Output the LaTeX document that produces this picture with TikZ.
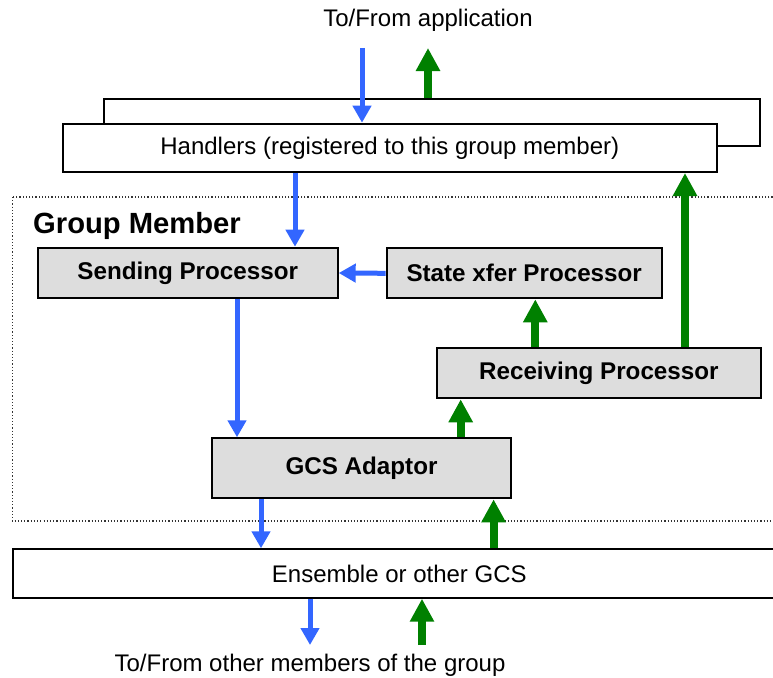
\documentclass[tikz,border=0pt]{standalone}
\usepackage{fontspec}
\setmainfont{Liberation Sans}
\usetikzlibrary{arrows.meta}
\definecolor{flowblue}{RGB}{51,102,255}
\definecolor{flowgreen}{RGB}{0,128,0}
\definecolor{procgray}{RGB}{221,221,221}
\tikzset{
  plainbox/.style={draw=black, line width=2pt, fill=white, inner sep=0pt,
    anchor=north west, font=\fontsize{24}{28}\selectfont},
  procbox/.style={plainbox, fill=procgray, font=\bfseries\fontsize{24.2}{28}\selectfont},
  sendflow/.style={draw=flowblue, line width=5pt,
    -{Triangle[width=18pt,length=17pt]}},
  recvflow/.style={draw=flowgreen, line width=8pt,
    -{Triangle[width=23pt,length=23pt]}},
  caption/.style={font=\fontsize{24}{28}\selectfont, inner sep=0pt}
}
\begin{document}
\begin{tikzpicture}[x=1pt, y=-1pt]
\useasboundingbox (0,0) rectangle (773,677);
\clip (0,0) rectangle (773,677);

% group member frame
\draw[dotted, line width=1.2pt, black!80] (12.3,197) rectangle (790,521);
\node[anchor=west, inner sep=0pt, font=\bfseries\fontsize{29.2}{33}\selectfont] (gmtitle) at (33,226) {Group Member};

% handler stack: back sheet then front sheet
\node[plainbox, minimum width=656pt, minimum height=47.3pt] (back) at (103,97.7) {};
\node[plainbox, minimum width=654.4pt, minimum height=48.3pt] (handlers) at (61.6,122.7)
  {Handlers (registered to this group member)};

% processors
\node[procbox, minimum width=300pt, minimum height=50.6pt] (send) at (36.7,246.7) {Sending Processor};
\node[procbox, minimum width=275pt, minimum height=50pt] (state) at (385.7,247.3) {State xfer Processor};
\node[procbox, minimum width=324.3pt, minimum height=50.6pt] (recv) at (435.7,346.7) {Receiving Processor};
\node[procbox, minimum width=299.5pt, minimum height=60pt] (gcs) at (210.8,437.3) {GCS Adaptor};

% group communication system
\node[plainbox, minimum width=773pt, minimum height=48.4pt] (ens) at (11.8,548.3) {Ensemble or other GCS};

% outer labels and free arrow ends
\node[caption] (app) at (428,20) {To/From application};
\node[caption] (peers) at (310,665) {To/From other members of the group};
\coordinate (appin) at (362,48);
\coordinate (appout) at (428,48);
\coordinate (peerout) at (310,645);
\coordinate (peerin) at (422,645);

% sending path
\draw[sendflow] (appin) -- (appin |- handlers.north);
\draw[sendflow] (295,0 |- handlers.south) -- (295,0 |- send.north);
\draw[sendflow] (state.west) -- (send.east);
\draw[sendflow] (237,0 |- send.south) -- (237,0 |- gcs.north);
\draw[sendflow] (261,0 |- gcs.south) -- (261,0 |- ens.north);
\draw[sendflow] (peerout |- ens.south) -- (peerout);

% receiving path
\draw[recvflow] (peerin) -- (peerin |- ens.south);
\draw[recvflow] (493.6,0 |- ens.north) -- (493.6,0 |- gcs.south);
\draw[recvflow] (460.7,0 |- gcs.north) -- (460.7,0 |- recv.south);
\draw[recvflow] (535.3,0 |- recv.north) -- (535.3,0 |- state.south);
\draw[recvflow] (685,0 |- recv.north) -- (685,0 |- handlers.south);
\draw[recvflow] (appout |- back.north) -- (appout);
\end{tikzpicture}
\end{document}
